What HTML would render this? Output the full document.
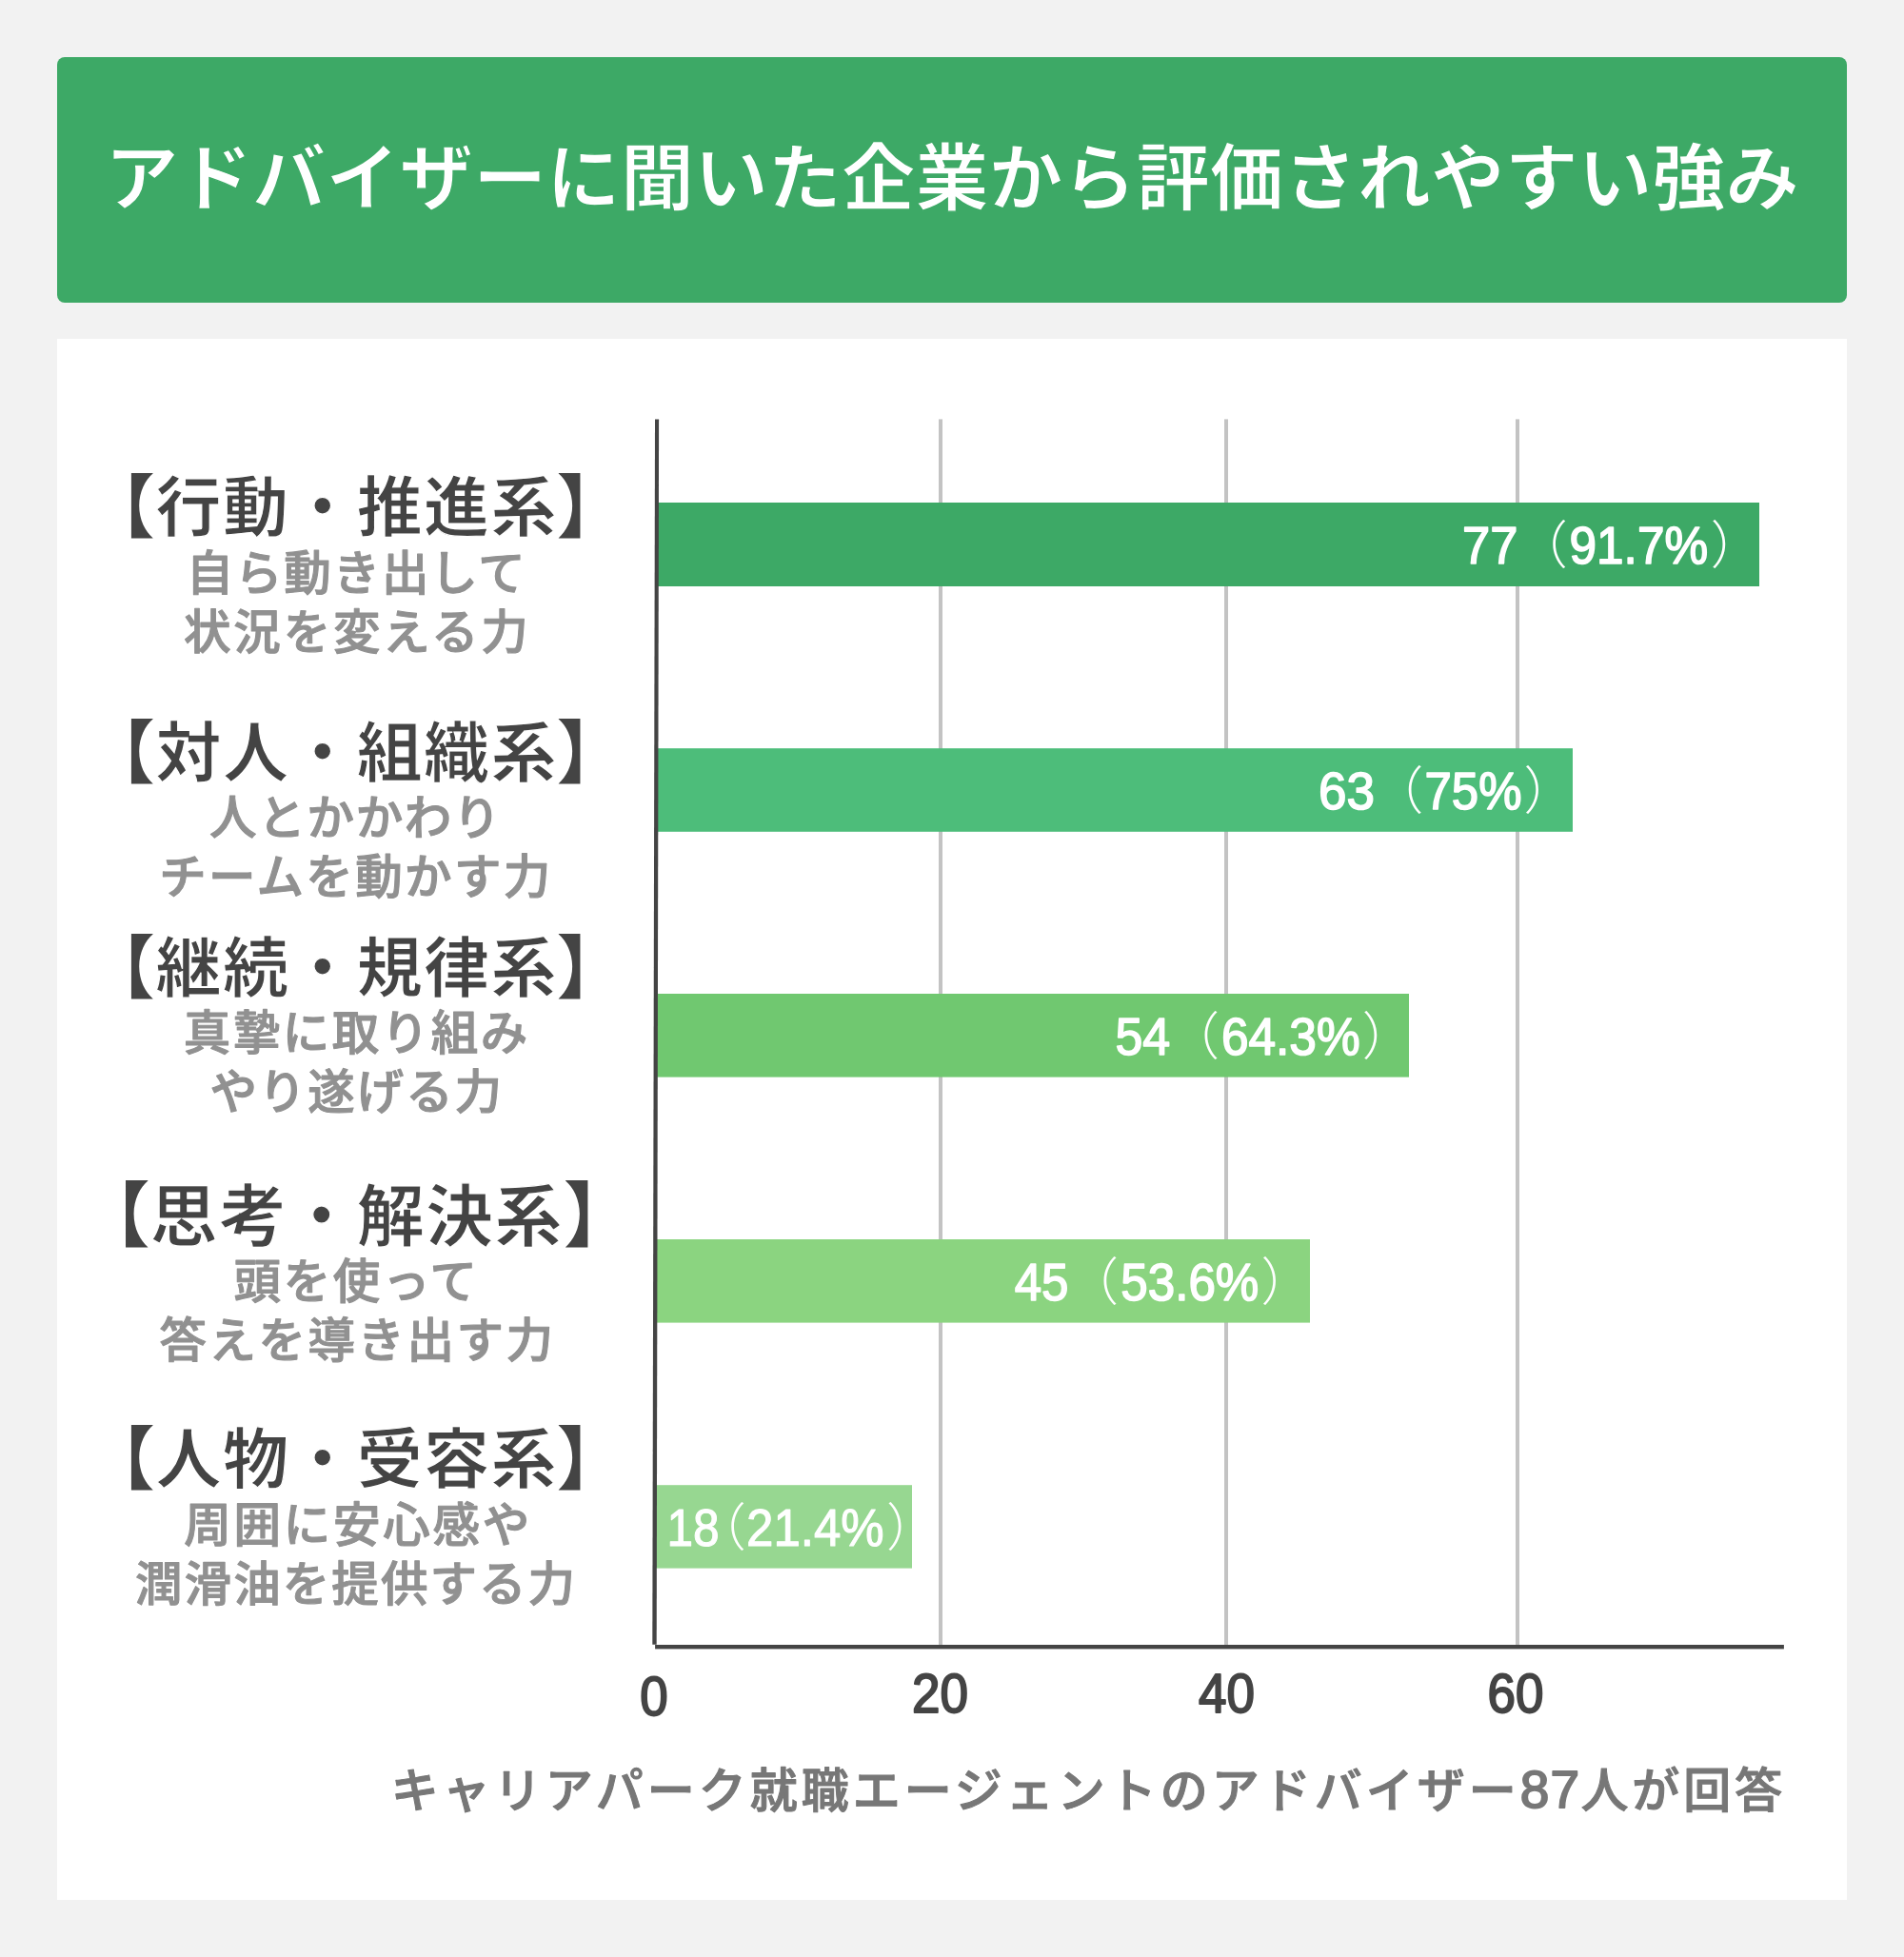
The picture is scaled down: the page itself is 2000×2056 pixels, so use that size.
<!DOCTYPE html>
<html lang="ja">
<head>
<meta charset="utf-8">
<title>アドバイザーに聞いた企業から評価されやすい強み</title>
<style>
  html, body { margin: 0; padding: 0; }
  body { width: 2000px; height: 2056px; background: #f2f2f2; position: relative; overflow: hidden;
         font-family: "Liberation Sans", "Noto Sans CJK JP", sans-serif; }
  .header { position: absolute; left: 60px; top: 60px; width: 1880px; height: 258px; background: #3da966; border-radius: 8px; }
  .header h1 { position: absolute; left: 0; top: 0; margin: 0; width: 1880px; height: 258px; line-height: 256px; text-align: center;
         color: #fff; font-weight: 700; font-size: 77.4px; letter-spacing: 0; white-space: nowrap;
         -webkit-text-stroke: 1.4px #3da966; }
  .panel { position: absolute; left: 60px; top: 356px; width: 1880px; height: 1640px; background: #fff; }
  svg.chart { position: absolute; left: 0; top: 0; width: 2000px; height: 2056px; }
  svg text { font-family: "Liberation Sans", "Noto Sans CJK JP", sans-serif; }
  .gh { font-weight: 700; fill: #444; letter-spacing: 1.4px; stroke: #fff; stroke-width: 1.2px; }
  .gh .br { stroke: none; }
  .gs { font-weight: 500; fill: #919191; font-size: 49.5px; stroke: #919191; stroke-width: 1.1px; stroke-linejoin: round; }
  .bl { font-weight: 300; fill: #fff; font-size: 54px; }
  .bl .d { font-weight: 400; font-size: 55px; stroke: #fff; stroke-width: 1.6px; stroke-linejoin: round; }
  .bl.light .d { stroke-width: 1.1px; }
  .tick { font-weight: 400; fill: #444; font-size: 57.5px; stroke: #444; stroke-width: 2.0px; stroke-linejoin: round; }
  .note { font-weight: 500; fill: #777; font-size: 50px; letter-spacing: 4px; stroke: #777; stroke-width: 1.1px; stroke-linejoin: round; }
  .note .nd { font-weight: 400; font-size: 55px; letter-spacing: 1.2px; stroke-width: 1.9px; }
</style>
</head>
<body>
<div class="header"><h1>アドバイザーに聞いた企業から評価されやすい強み</h1></div>
<div class="panel"></div>
<svg class="chart" viewBox="0 0 2000 2056" width="2000" height="2056">

<g class="grid">
<rect x="986" y="440.4" width="4" height="1288" fill="#c3c3c3"/>
<rect x="1286" y="440.4" width="4" height="1288" fill="#c3c3c3"/>
<rect x="1592" y="440.4" width="4" height="1288" fill="#c3c3c3"/>
</g>
<g class="bars">
<rect x="689" y="528" width="1159" height="88" fill="#3da966"/>
<rect x="689" y="786.2" width="963" height="87.6" fill="#4dbd7a"/>
<rect x="689" y="1044" width="791" height="87.6" fill="#70c870"/>
<rect x="689" y="1302" width="687" height="87.6" fill="#8bd480"/>
<rect x="689" y="1560.2" width="269" height="87.4" fill="#97d791"/>
</g>
<g class="axes">
<polygon points="688,440.4 692.1,440.4 689.7,1727.8 685.3,1727.8" fill="#444"/>
<rect x="688.1" y="1728" width="1185.8" height="4.4" fill="#444"/>
</g>
<g class="bar-labels">
<text class="bl" y="592.3"><tspan class="d" x="1536.0" textLength="58.4" lengthAdjust="spacingAndGlyphs">77</tspan><tspan x="1592.7">（</tspan><tspan class="d" x="1648.5" textLength="145.6" lengthAdjust="spacingAndGlyphs">91.7%</tspan><tspan x="1796.8">）</tspan></text>
<text class="bl" y="850.3"><tspan class="d" x="1384.9" textLength="59.0" lengthAdjust="spacingAndGlyphs">63</tspan><tspan x="1441.2">（</tspan><tspan class="d" x="1496.5" textLength="102.0" lengthAdjust="spacingAndGlyphs">75%</tspan><tspan x="1600.5">）</tspan></text>
<text class="bl" y="1108.1"><tspan class="d" x="1171.4" textLength="57.8" lengthAdjust="spacingAndGlyphs">54</tspan><tspan x="1226.9">（</tspan><tspan class="d" x="1282.9" textLength="145.7" lengthAdjust="spacingAndGlyphs">64.3%</tspan><tspan x="1430.7">）</tspan></text>
<text class="bl" y="1366.1"><tspan class="d" x="1065.7" textLength="56.8" lengthAdjust="spacingAndGlyphs">45</tspan><tspan x="1120.9">（</tspan><tspan class="d" x="1177.3" textLength="145.0" lengthAdjust="spacingAndGlyphs">53.6%</tspan><tspan x="1324.5">）</tspan></text>
<text class="bl light" y="1624.2"><tspan class="d" x="700.4" textLength="55.1" lengthAdjust="spacingAndGlyphs">18</tspan><tspan x="729.7">（</tspan><tspan class="d" x="784.1" textLength="144.6" lengthAdjust="spacingAndGlyphs">21.4%</tspan><tspan x="930.9">）</tspan></text>
</g>
<g class="group-labels">
<text class="gh" y="558" font-size="69"><tspan class="br" x="89.9" dy="1.2" font-size="72.6">【</tspan><tspan x="163.5" dy="-1.2">行動・推進系</tspan><tspan class="br" x="584.8" dy="1.2" font-size="72.6">】</tspan></text>
<text class="gs" x="195.7" y="619.5" letter-spacing="1.83">自ら動き出して</text>
<text class="gs" x="193.1" y="681.5" letter-spacing="2.77">状況を変える力</text>
<text class="gh" y="816" font-size="69"><tspan class="br" x="89.9" dy="1.2" font-size="72.6">【</tspan><tspan x="163.5" dy="-1.2">対人・組織系</tspan><tspan class="br" x="584.8" dy="1.2" font-size="72.6">】</tspan></text>
<text class="gs" x="220.1" y="877.0" letter-spacing="1.68">人とかかわり</text>
<text class="gs" x="167.2" y="938.9" letter-spacing="2.37">チームを動かす力</text>
<text class="gh" y="1042" font-size="69"><tspan class="br" x="89.9" dy="1.2" font-size="72.6">【</tspan><tspan x="163.5" dy="-1.2">継続・規律系</tspan><tspan class="br" x="584.8" dy="1.2" font-size="72.6">】</tspan></text>
<text class="gs" x="192.8" y="1103.2" letter-spacing="2.50">真摯に取り組み</text>
<text class="gs" x="220.4" y="1164.7" letter-spacing="1.94">やり遂げる力</text>
<text class="gh" y="1302.5" font-size="71"><tspan class="br" x="82.8" dy="1.2" font-size="74.7">【</tspan><tspan x="157.5" dy="-1.2">思考・解決系</tspan><tspan class="br" x="592.1" dy="1.2" font-size="74.7">】</tspan></text>
<text class="gs" x="245.6" y="1363.8" letter-spacing="2.60">頭を使って</text>
<text class="gs" x="167.6" y="1425.7" letter-spacing="2.47">答えを導き出す力</text>
<text class="gh" y="1558" font-size="69"><tspan class="br" x="89.9" dy="1.2" font-size="72.6">【</tspan><tspan x="163.5" dy="-1.2">人物・受容系</tspan><tspan class="br" x="584.8" dy="1.2" font-size="72.6">】</tspan></text>
<text class="gs" x="193.3" y="1619.6" letter-spacing="2.75">周囲に安心感や</text>
<text class="gs" x="142.1" y="1682.1" letter-spacing="2.06">潤滑油を提供する力</text>
</g>
<g class="ticks">
<text class="tick" x="672.2" y="1802.0" textLength="29.4" lengthAdjust="spacingAndGlyphs">0</text>
<text class="tick" x="957.9" y="1798.5" textLength="59.0" lengthAdjust="spacingAndGlyphs">20</text>
<text class="tick" x="1259.0" y="1798.5" textLength="58.9" lengthAdjust="spacingAndGlyphs">40</text>
<text class="tick" x="1562.5" y="1798.5" textLength="58.9" lengthAdjust="spacingAndGlyphs">60</text>
</g>
<text class="note" x="410.8" y="1899">キャリアパーク就職エージェントのアドバイザー<tspan class="nd">87</tspan>人が回答</text>
</svg>
</body>
</html>
